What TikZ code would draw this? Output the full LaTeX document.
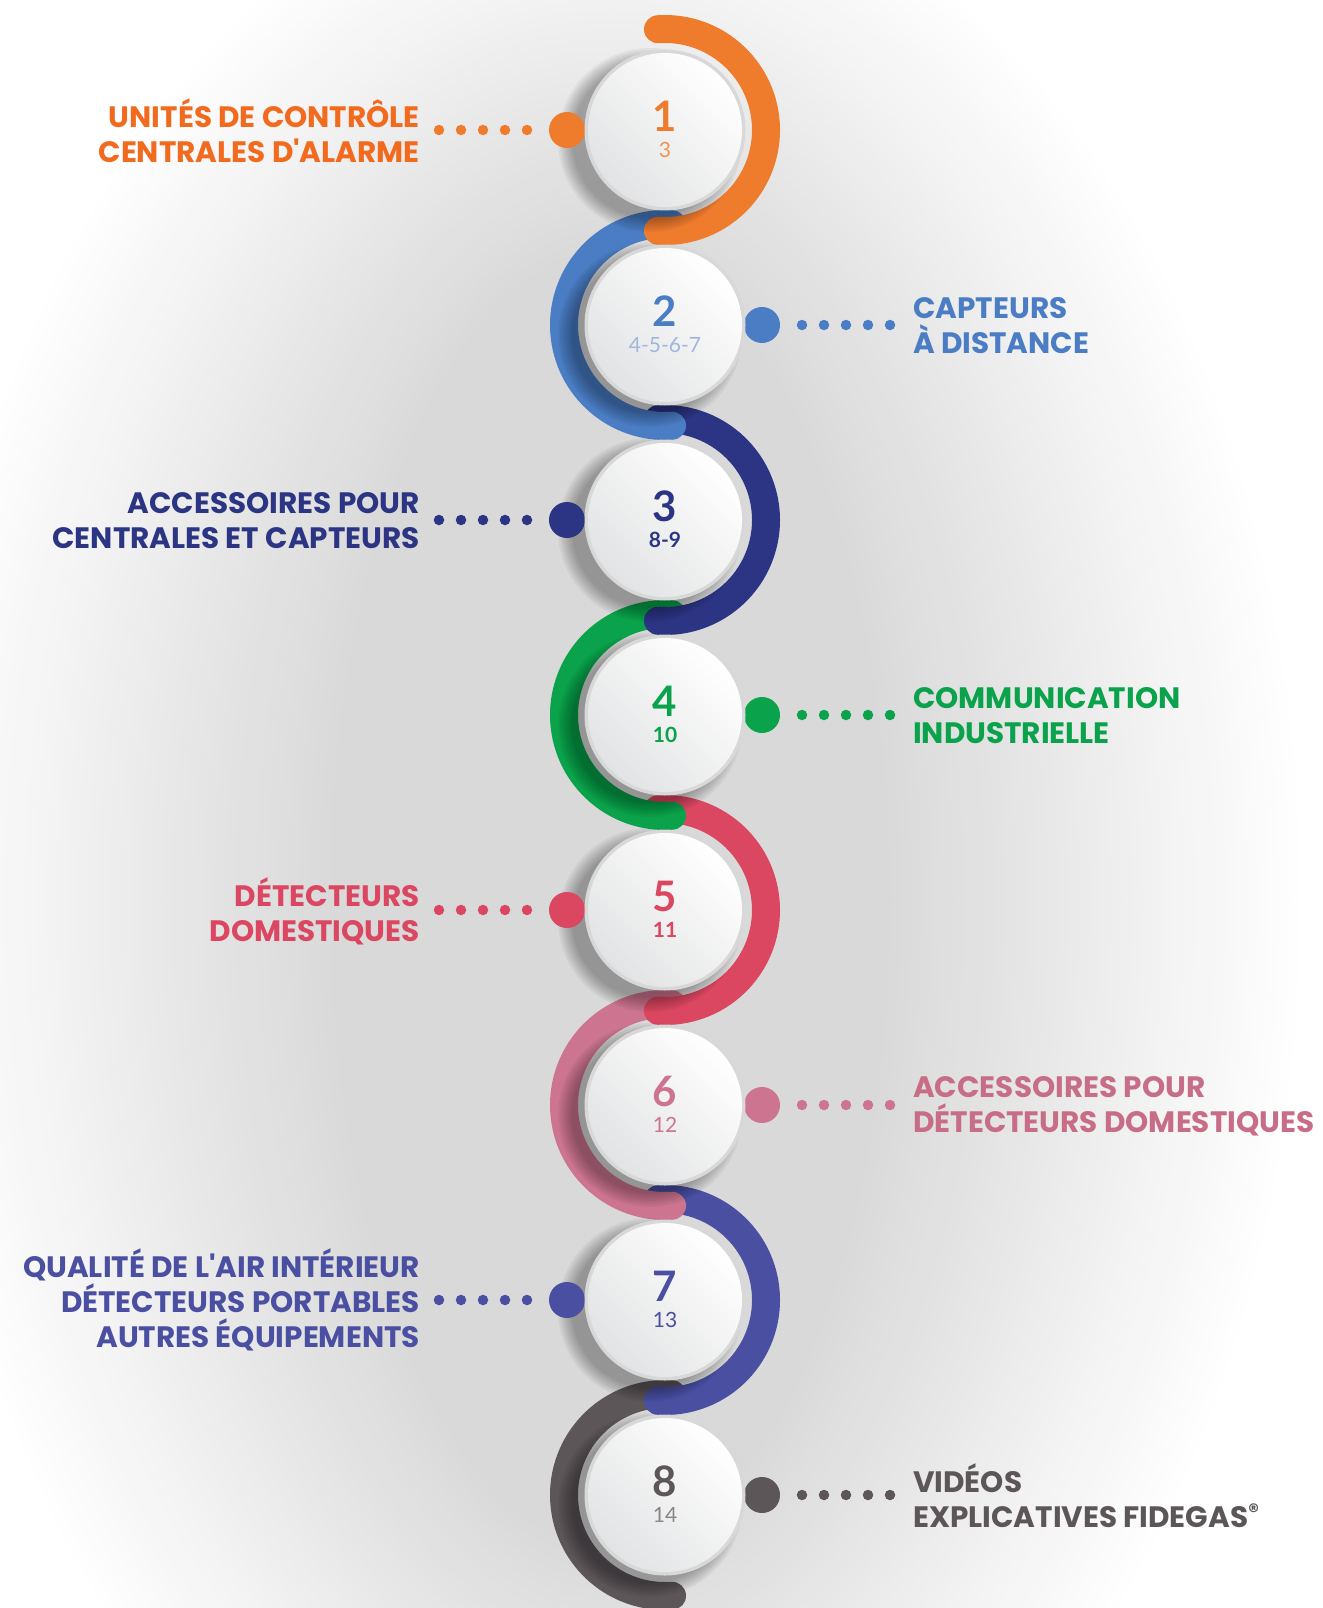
\documentclass[tikz,border=0pt]{standalone}
\usepackage{fontspec}
\setmainfont{Poppins}[Ligatures=TeXOff]
\newfontfamily\numfont{Lato}
\usetikzlibrary{calc}

\definecolor{cO}{HTML}{EF7B2D}
\definecolor{tO}{HTML}{F26A1E}
\definecolor{sO}{HTML}{F1924F}
\definecolor{cB}{HTML}{4A7DC4}
\definecolor{sB}{HTML}{A0B7DD}
\definecolor{cN}{HTML}{2C3583}
\definecolor{cG}{HTML}{0AA24A}
\definecolor{cR}{HTML}{DB4660}
\definecolor{cP}{HTML}{CD7590}
\definecolor{tP}{HTML}{C86D87}
\definecolor{cV}{HTML}{4A4FA2}
\definecolor{cK}{HTML}{5C5659}
\definecolor{sK}{HTML}{8A8588}
\definecolor{bggray}{HTML}{D9D9D9}
\definecolor{rim}{HTML}{D8D8D8}
\definecolor{discgray}{HTML}{E2E3E4}

\begin{document}
\begin{tikzpicture}[x=1pt,y=-1pt,
  arcband/.style={line width=28pt, line cap=round},
  bigdot/.style={circle, minimum size=36pt, inner sep=0pt},
  disc/.style={circle, minimum size=154pt, inner sep=0pt, top color=white, bottom color=discgray, shading angle=-45},
  bignum/.style={font=\numfont\bfseries\fontsize{42}{42}\selectfont, inner sep=0pt},
  subnum/.style={font=\numfont\fontsize{21}{21}\selectfont, inner sep=0pt},
  subnumb/.style={font=\numfont\bfseries\fontsize{21}{21}\selectfont, inner sep=0pt},
  lab/.style={font=\bfseries\fontsize{29.5}{35}\selectfont, inner sep=0pt},
  labl/.style={lab, anchor=east, align=right},
  labr/.style={lab, anchor=west, align=left},
  dotline/.style={line width=10.5pt, line cap=round, dash pattern=on 0pt off 22pt}
]
\useasboundingbox (0,0) rectangle (1322,1608);
\begin{scope}
\clip (0,0) rectangle (1322,1608);
\fill[white] (0,0) rectangle (1322,1608);
\foreach \k in {0,...,40}{
  \pgfmathsetmacro\f{\k/40}
  \pgfmathsetmacro\rx{700 - 420*\f}
  \pgfmathsetmacro\ry{1050 - 400*\f}
  \pgfmathsetmacro\p{100*\f}
  \fill[bggray!\p!white] (610,900) ellipse [x radius=\rx, y radius=\ry];
}
\end{scope}

% arcs, drawn from last to first
\foreach \y/\c/\s/\e in {1495/cK/86/274, 1300/cV/-94/94, 1105/cP/86/274, 910/cR/-94/94, 715/cG/86/274, 520/cN/-94/94, 325/cB/86/274, 130/cO/-94/94}
  \draw[arcband, draw=\c] ($(665,\y)+(\s:101)$) arc[start angle=\s, end angle=\e, radius=101];

% shadows
\foreach \y in {130,325,520,715,910,1105,1300,1495}{
  \foreach \r in {78,80,...,92}
    \fill[black, opacity=0.045] (650,\y+10) circle (\r);
}

% big dots
\node[bigdot, fill=cO] (d1) at (567,130) {};
\node[bigdot, fill=cB] (d2) at (762,325) {};
\node[bigdot, fill=cN] (d3) at (567,520) {};
\node[bigdot, fill=cG] (d4) at (762,715) {};
\node[bigdot, fill=cR] (d5) at (567,910) {};
\node[bigdot, fill=cP] (d6) at (762,1105) {};
\node[bigdot, fill=cV] (d7) at (567,1300) {};
\node[bigdot, fill=cK] (d8) at (762,1495) {};

% rims and discs
\foreach \y in {130,325,520,715,910,1105,1300,1495}
  \fill[rim] (665,\y) circle (80.5);
\node[disc] (c1) at (665,130) {};
\node[disc] (c2) at (665,325) {};
\node[disc] (c3) at (665,520) {};
\node[disc] (c4) at (665,715) {};
\node[disc] (c5) at (665,910) {};
\node[disc] (c6) at (665,1105) {};
\node[disc] (c7) at (665,1300) {};
\node[disc] (c8) at (665,1495) {};

% numbers
\node[bignum, text=cO] (n1) at (665,116) {1};
\node[subnum, text=sO] (s1) at (665,150) {3};
\node[bignum, text=cB] (n2) at (665,311) {2};
\node[subnum, text=sB] (s2) at (665,345) {4-5-6-7};
\node[bignum, text=cN] (n3) at (665,506) {3};
\node[subnumb, text=cN] (s3) at (665,540) {8-9};
\node[bignum, text=cG] (n4) at (665,701) {4};
\node[subnumb, text=cG] (s4) at (665,735) {10};
\node[bignum, text=cR] (n5) at (665,896) {5};
\node[subnumb, text=cR] (s5) at (665,930) {11};
\node[bignum, text=cP] (n6) at (665,1091) {6};
\node[subnum, text=cP] (s6) at (665,1125) {12};
\node[bignum, text=cV] (n7) at (665,1286) {7};
\node[subnum, text=cV] (s7) at (665,1320) {13};
\node[bignum, text=cK] (n8) at (665,1481) {8};
\node[subnum, text=sK] (s8) at (665,1515) {14};

% labels
\node[labl, text=tO] (l1) at (420,131) {UNITÉS DE CONTRÔLE\\CENTRALES D'ALARME};
\node[labr, text=cB] (l2) at (913,326) {CAPTEURS\\À DISTANCE};
\node[labl, text=cN] (l3) at (420,521) {ACCESSOIRES POUR\\CENTRALES ET CAPTEURS};
\node[labr, text=cG] (l4) at (913,716) {COMMUNICATION\\INDUSTRIELLE};
\node[labl, text=cR] (l5) at (420,911) {DÉTECTEURS\\DOMESTIQUES};
\node[labr, text=tP] (l6) at (913,1106) {ACCESSOIRES POUR\\DÉTECTEURS DOMESTIQUES};
\node[labl, text=cV] (l7) at (420,1300) {QUALITÉ DE L'AIR INTÉRIEUR\\DÉTECTEURS PORTABLES\\AUTRES ÉQUIPEMENTS};
\node[labr, text=cK] (l8) at (913,1496) {VIDÉOS\\EXPLICATIVES FIDEGAS\textsuperscript{®}};

% dotted connectors
\coordinate (a1) at (439,130); \coordinate (b1) at (527.5,130);
\coordinate (a2) at (802,325); \coordinate (b2) at (890.5,325);
\coordinate (a3) at (439,520); \coordinate (b3) at (527.5,520);
\coordinate (a4) at (802,715); \coordinate (b4) at (890.5,715);
\coordinate (a5) at (439,910); \coordinate (b5) at (527.5,910);
\coordinate (a6) at (802,1105); \coordinate (b6) at (890.5,1105);
\coordinate (a7) at (439,1300); \coordinate (b7) at (527.5,1300);
\coordinate (a8) at (802,1495); \coordinate (b8) at (890.5,1495);
\draw[dotline, draw=cO] (a1) -- (b1);
\draw[dotline, draw=cB] (a2) -- (b2);
\draw[dotline, draw=cN] (a3) -- (b3);
\draw[dotline, draw=cG] (a4) -- (b4);
\draw[dotline, draw=cR] (a5) -- (b5);
\draw[dotline, draw=cP] (a6) -- (b6);
\draw[dotline, draw=cV] (a7) -- (b7);
\draw[dotline, draw=cK] (a8) -- (b8);
\end{tikzpicture}
\end{document}
